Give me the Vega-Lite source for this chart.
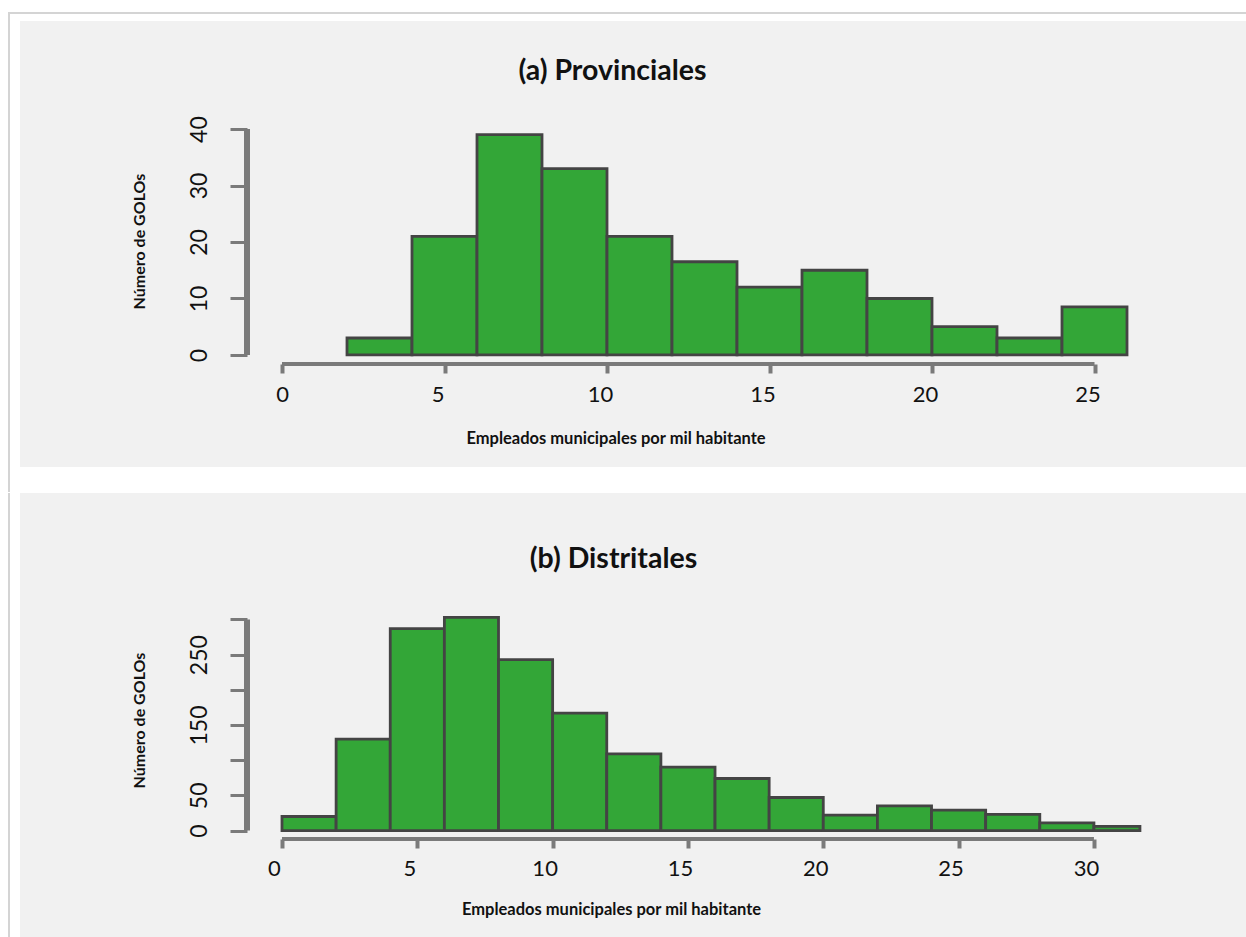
{
  "$schema": "https://vega.github.io/schema/vega-lite/v6.json",
  "background": "white",
  "padding": {"left": 7, "top": 11, "right": 0, "bottom": 0},
  "spacing": 0,
  "config": {
    "view": {"stroke": null},
    "font": "Lato",
    "axis": {"grid": false, "domain": false, "zindex": 1}
  },
  "datasets": {
    "one": [{}],
    "prov": [
      {"bin_start": 2, "bin_end": 4, "count": 3},
      {"bin_start": 4, "bin_end": 6, "count": 21},
      {"bin_start": 6, "bin_end": 8, "count": 39},
      {"bin_start": 8, "bin_end": 10, "count": 33},
      {"bin_start": 10, "bin_end": 12, "count": 21},
      {"bin_start": 12, "bin_end": 14, "count": 16.5},
      {"bin_start": 14, "bin_end": 16, "count": 12},
      {"bin_start": 16, "bin_end": 18, "count": 15},
      {"bin_start": 18, "bin_end": 20, "count": 10},
      {"bin_start": 20, "bin_end": 22, "count": 5},
      {"bin_start": 22, "bin_end": 24, "count": 3},
      {"bin_start": 24, "bin_end": 26, "count": 8.5}
    ],
    "dist": [
      {"bin_start": 0, "bin_end": 2, "count": 20},
      {"bin_start": 2, "bin_end": 4, "count": 130},
      {"bin_start": 4, "bin_end": 6, "count": 287},
      {"bin_start": 6, "bin_end": 8, "count": 303},
      {"bin_start": 8, "bin_end": 10, "count": 243},
      {"bin_start": 10, "bin_end": 12, "count": 167},
      {"bin_start": 12, "bin_end": 14, "count": 109},
      {"bin_start": 14, "bin_end": 16, "count": 90},
      {"bin_start": 16, "bin_end": 18, "count": 74},
      {"bin_start": 18, "bin_end": 20, "count": 47},
      {"bin_start": 20, "bin_end": 22, "count": 22},
      {"bin_start": 22, "bin_end": 24, "count": 35},
      {"bin_start": 24, "bin_end": 26, "count": 29},
      {"bin_start": 26, "bin_end": 28, "count": 23},
      {"bin_start": 28, "bin_end": 30, "count": 11},
      {"bin_start": 30, "bin_end": 31.7, "count": 6}
    ]
  },
  "vconcat": [
    {
      "width": 880,
      "height": 244,
      "title": {"text": "(a) Provinciales", "frame": "group", "anchor": "middle", "dx": -74.5, "offset": -97, "baseline": "alphabetic", "font": "Lato", "fontSize": 28.5, "fontWeight": "bold", "color": "#111111"},
      "layer": [
        {
          "data": {"name": "one"},
          "mark": {"type": "rect", "color": "#f1f1f1", "clip": false},
          "encoding": {
            "x": {"datum": -8.062, "type": "quantitative", "scale": {"domain": [-1.077, 26], "nice": false, "zero": false}},
            "x2": {"datum": 29.692},
            "y": {"datum": 59.128, "type": "quantitative", "scale": {"domain": [-1.6, 41.6], "nice": false, "zero": false}},
            "y2": {"datum": -19.837}
          }
        },
        {
          "data": {"name": "one"},
          "mark": {"type": "rect", "color": "#d4d4d4", "clip": false},
          "encoding": {"x": {"datum": -8.431}, "x2": {"datum": -8.369}, "y": {"datum": 60.722}, "y2": {"datum": -24.264}}
        },
        {
          "data": {"name": "one"},
          "mark": {"type": "rect", "color": "#d4d4d4", "clip": false},
          "encoding": {"x": {"datum": -8.431}, "x2": {"datum": 29.692}, "y": {"datum": 60.722}, "y2": {"datum": 60.368}}
        },
        {
          "data": {"name": "one"},
          "mark": {"type": "rule", "color": "#7a7a7a", "strokeWidth": 6, "clip": false},
          "encoding": {"x": {"datum": -1.077}, "y": {"datum": 0}, "y2": {"datum": 40}}
        },
        {
          "data": {"name": "one"},
          "mark": {"type": "rule", "color": "#7a7a7a", "strokeWidth": 4, "clip": false},
          "encoding": {"y": {"datum": -1.6}, "x": {"datum": 0}, "x2": {"datum": 25}}
        },
        {
          "data": {"name": "prov"},
          "mark": {"type": "rect", "fill": "#33a637", "stroke": "#444444", "strokeWidth": 2.8, "clip": false},
          "encoding": {
            "x": {"field": "bin_start", "type": "quantitative",
              "axis": {"values": [0, 5, 10, 15, 20, 25], "tickCount": 30, "domain": false, "grid": false, "zindex": 1, "tickColor": "#7a7a7a", "tickWidth": 4, "tickSize": 9,
                "labelFont": "Lato", "labelFontSize": 22, "labelColor": "#111111", "labelPadding": 11, "labelFlush": false, "labelOverlap": false, "labelBound": false,
                "labelOffset": {"condition": {"test": "datum.value == 0", "value": 0}, "value": -7},
                "title": "Empleados municipales por mil  habitante", "titleFont": "Lato", "titleFontSize": 16.5, "titleFontWeight": "bold", "titleColor": "#111111",
                "titleX": 368.5, "titleY": 74, "titleAlign": "center", "titleBaseline": "middle", "titleAngle": 0}},
            "x2": {"field": "bin_end"},
            "y": {"field": "count", "type": "quantitative",
              "axis": {"values": [0, 10, 20, 30, 40], "tickCount": 30, "domain": false, "grid": false, "zindex": 1, "tickColor": "#7a7a7a", "tickWidth": 3, "tickSize": 17,
                "labelFont": "Lato", "labelFontSize": 23, "labelColor": "#111111", "labelAngle": 270, "labelAlign": "center", "labelBaseline": "alphabetic", "labelPadding": 24,
                "labelFlush": false, "labelOverlap": false, "labelBound": false,
                "title": "Número de GOLOs", "titleFont": "Lato", "titleFontSize": 16, "titleFontWeight": "bold", "titleColor": "#111111",
                "titleAngle": 270, "titleX": -108, "titleY": 121, "titleAlign": "center", "titleBaseline": "middle"}},
            "y2": {"datum": 0}
          }
        }
      ]
    },
    {
      "width": 920,
      "height": 228,
      "title": {"text": "(b) Distritales", "frame": "group", "anchor": "middle", "dx": -93.5, "offset": -103, "baseline": "alphabetic", "font": "Lato", "fontSize": 28.5, "fontWeight": "bold", "color": "#111111"},
      "layer": [
        {
          "data": {"name": "one"},
          "mark": {"type": "rect", "color": "#f1f1f1", "clip": false},
          "encoding": {
            "x": {"datum": -9.681, "type": "quantitative", "scale": {"domain": [-1.293, 32.7], "nice": false, "zero": false}},
            "x2": {"datum": 35.657},
            "y": {"datum": 479.68, "type": "quantitative", "scale": {"domain": [-12, 312], "nice": false, "zero": false}},
            "y2": {"datum": -154.11}
          }
        },
        {
          "data": {"name": "one"},
          "mark": {"type": "rect", "color": "#d4d4d4", "clip": false},
          "encoding": {"x": {"datum": -10.124}, "x2": {"datum": -10.05}, "y": {"datum": 479.68}, "y2": {"datum": -154.11}}
        },
        {
          "data": {"name": "one"},
          "mark": {"type": "rule", "color": "#7a7a7a", "strokeWidth": 6, "clip": false},
          "encoding": {"x": {"datum": -1.293}, "y": {"datum": 0}, "y2": {"datum": 300}}
        },
        {
          "data": {"name": "one"},
          "mark": {"type": "rule", "color": "#7a7a7a", "strokeWidth": 4, "clip": false},
          "encoding": {"y": {"datum": -12}, "x": {"datum": 0}, "x2": {"datum": 30}}
        },
        {
          "data": {"name": "dist"},
          "mark": {"type": "rect", "fill": "#33a637", "stroke": "#444444", "strokeWidth": 2.8, "clip": false},
          "encoding": {
            "x": {"field": "bin_start", "type": "quantitative",
              "axis": {"values": [0, 5, 10, 15, 20, 25, 30], "tickCount": 30, "domain": false, "grid": false, "zindex": 1, "tickColor": "#7a7a7a", "tickWidth": 4, "tickSize": 9,
                "labelFont": "Lato", "labelFontSize": 22, "labelColor": "#111111", "labelPadding": 10, "labelFlush": false, "labelOverlap": false, "labelBound": false,
                "labelOffset": -8,
                "title": "Empleados municipales por mil  habitante", "titleFont": "Lato", "titleFontSize": 16.5, "titleFontWeight": "bold", "titleColor": "#111111",
                "titleX": 364, "titleY": 70, "titleAlign": "center", "titleBaseline": "middle", "titleAngle": 0}},
            "x2": {"field": "bin_end"},
            "y": {"field": "count", "type": "quantitative",
              "axis": {"values": [0, 50, 100, 150, 200, 250, 300], "tickCount": 30, "domain": false, "grid": false, "zindex": 1, "tickColor": "#7a7a7a", "tickWidth": 3, "tickSize": 17,
                "labelFont": "Lato", "labelFontSize": 23, "labelColor": "#111111", "labelAngle": 270, "labelAlign": "center", "labelBaseline": "alphabetic", "labelPadding": 24,
                "labelFlush": false, "labelOverlap": false, "labelBound": false,
                "labelExpr": "datum.value == 100 || datum.value == 200 || datum.value == 300 ? '' : datum.label",
                "title": "Número de GOLOs", "titleFont": "Lato", "titleFontSize": 16, "titleFontWeight": "bold", "titleColor": "#111111",
                "titleAngle": 270, "titleX": -108, "titleY": 109, "titleAlign": "center", "titleBaseline": "middle"}},
            "y2": {"datum": 0}
          }
        }
      ]
    }
  ]
}
